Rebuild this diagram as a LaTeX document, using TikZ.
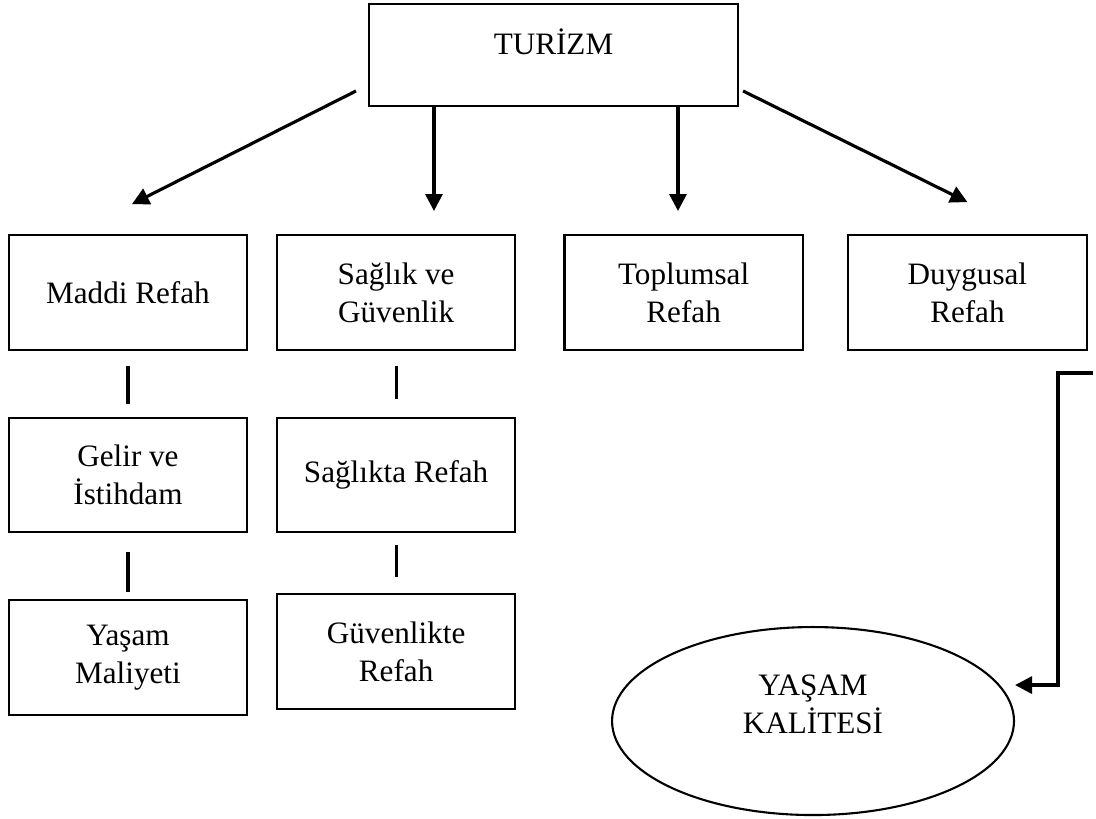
\documentclass[tikz,border=0pt]{standalone}
\usepackage{fontspec}
\setmainfont{Liberation Serif}
\usetikzlibrary{arrows.meta, shapes.geometric}
\tikzset{>={Triangle[length=6.5pt, width=6.5pt]}}
\tikzstyle{box} = [rectangle, text centered, align = center, minimum width = 3.2cm, minimum height = 1.54cm, draw = black, line width = 0.8pt, font = \fontsize{11.9pt}{14.5pt}\selectfont]
\tikzstyle{topBox} = [box, minimum width = 4.954cm, minimum height = 1.369cm, text depth = 10pt]
\tikzstyle{oval} = [ellipse, text centered, align = center, minimum width = 5.396cm, minimum height = 2.524cm, draw = black, line width = 0.8pt, text depth = 13pt, font = \fontsize{11.9pt}{14.5pt}\selectfont]
\tikzstyle{link} = [line width = 1.2pt]

\begin{document}
\begin{tikzpicture}[node distance = 3.6cm]
    \useasboundingbox (0,0) rectangle (14.714,-10.995);
    \node (turizm) at (7.431,-0.738) [topBox] {TURİZM};
    \node (maddi) at (1.718,-3.927) [box] {Maddi Refah};
    \node (saglik) [box, right of = maddi] {Sağlık ve\\Güvenlik};
    \node (toplumsal) [box, right of = saglik, node distance = 3.86cm] {Toplumsal\\Refah};
    \node (duygusal) [box, right of = toplumsal, node distance = 3.81cm] {Duygusal\\Refah};
    \node (gelir) [box, below of = maddi, node distance = 2.45cm] {Gelir ve\\İstihdam};
    \node (saglikta) [box, below of = saglik, node distance = 2.45cm] {Sağlıkta Refah};
    \node (yasam) [box, below of = gelir, node distance = 2.45cm] {Yaşam\\Maliyeti};
    \node (guvenlik) [box, below of = saglikta, node distance = 2.37cm] {Güvenlikte\\Refah};
    \node (kalite) at (10.915,-9.680) [oval] {YAŞAM\\KALİTESİ};
    \coordinate (bend) at (14.674,-5.008);
    \draw [->, link] ([xshift=-0.161cm, yshift=0.215cm]turizm.south west) -- ([xshift=0.054cm, yshift=0.403cm]maddi.north);
    \draw [->, link, shorten >= 0.31cm] ([xshift=-1.605cm]turizm.south) -- ([xshift=-1.605cm]turizm.south |- saglik.north);
    \draw [->, link, shorten >= 0.31cm] ([xshift=1.671cm]turizm.south) -- ([xshift=1.671cm]turizm.south |- toplumsal.north);
    \draw [->, link] ([xshift=0.054cm, yshift=0.215cm]turizm.south east) -- ([yshift=0.43cm]duygusal.north);
    \draw [link, shorten <= 0.2cm, shorten >= 0.175cm] (maddi) -- (gelir);
    \draw [link, shorten <= 0.255cm, shorten >= 0.094cm] (gelir) -- (yasam);
    \draw [link, shorten <= 0.2cm, shorten >= 0.24cm] (saglik) -- (saglikta);
    \draw [link, shorten <= 0.16cm, shorten >= 0.215cm] (saglikta) -- (guvenlik);
    \draw [->, link] (bend) -- ++(-0.47,0) |- ([yshift=0.483cm]kalite.east);
\end{tikzpicture}
\end{document}
